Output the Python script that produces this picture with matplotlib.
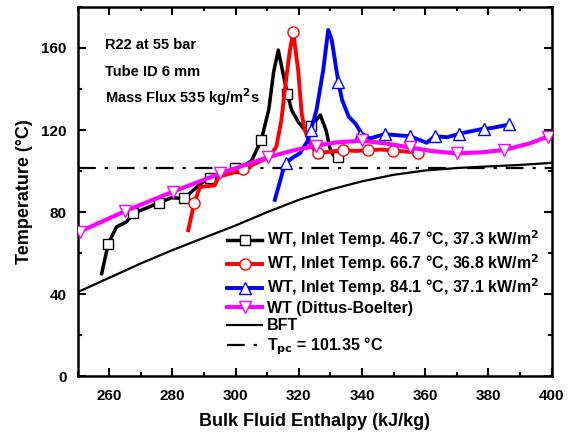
import numpy as np
import matplotlib
matplotlib.use("Agg")
import matplotlib.pyplot as plt
from matplotlib.lines import Line2D

plt.rcParams['font.family'] = ['Liberation Sans', 'DejaVu Sans']
plt.rcParams['font.weight'] = 'bold'
plt.rcParams['mathtext.default'] = 'bf'

# WT, inlet 46.7 C (black)
h_blk = [257.6, 259.7, 262.3, 265.5, 267.6, 271.8, 275.7, 279.7, 283.7, 286.6, 289.7, 291.9, 296.0,
         299.8, 302.0, 305.0, 308.1, 310.5, 312.0, 313.5, 315.0, 316.4, 317.7, 319.8, 321.9, 324.0,
         326.8, 328.6, 329.9, 330.8, 332.5]
t_blk = [50, 64.7, 72.8, 75.3, 79.4, 82, 84.5, 87, 86.7, 90.7, 94.8, 96.4, 98, 101.3, 102, 105, 115,
         130, 148, 159, 147.6, 137.6, 129.8, 124, 120, 122, 127.3, 120, 111, 108, 107]
h_blk_m = [259.7, 267.6, 275.7, 283.7, 291.9, 299.8, 308.1, 316.4, 324.0, 332.5]
t_blk_m = [64.7, 79.4, 84.5, 86.7, 96.4, 101.3, 115, 137.6, 122, 107]

# WT, inlet 66.7 C (red)
h_red = [285.0, 286.9, 288.7, 293.4, 294.5, 298.0, 302.4, 306.0, 310.8, 312.9, 314.5, 315.6, 317.0,
         318.2, 319.8, 320.9, 321.9, 323.5, 325.6, 330.0, 334.0, 338.0, 342.0, 346.0, 350.0, 354.0, 357.8]
t_red = [71.2, 84.5, 92.3, 93, 97.2, 98.7, 100.8, 103.5, 107, 112, 125, 140, 157, 168, 149, 128, 120,
         113.5, 108.6, 109.5, 110.2, 109.8, 110.2, 110.5, 110, 109.5, 109]
h_red_m = [286.9, 302.4, 318.2, 326.2, 334.0, 342.0, 349.9, 357.8]
t_red_m = [84.5, 100.8, 168, 109, 110.2, 110.2, 110, 109]

# WT, inlet 84.1 C (blue)
h_blu = [312.4, 313.5, 315.6, 318.0, 320.3, 322.9, 323.8, 325.6, 327.7, 329.3, 330.4, 332.5, 333.7,
         335.8, 338.0, 339.8, 342.5, 347.2, 351.0, 355.2, 360.5, 363.0, 367.0, 371.0, 377.3, 381.0,
         385.7]
t_blu = [86, 92, 103.7, 106.5, 108.6, 115, 120, 129.8, 149, 168.8, 164, 143.5, 134.6, 126.5, 123,
         118.4, 115.9, 118, 117.5, 117, 113.8, 117, 116.5, 118.3, 120.3, 121, 122.4]
h_blu_m = [316.0, 323.8, 332.5, 339.3, 347.2, 355.2, 363.0, 370.8, 378.6, 386.6]
t_blu_m = [104, 120, 143.5, 117.6, 118.3, 117, 117, 118.3, 120.5, 123]

# WT (Dittus-Boelter) (magenta)
h_db = [250.7, 265.0, 280.2, 295.2, 310.1, 325.4, 339.9, 355.2, 370.0, 384.9, 398.9]
t_db = [70.4, 80.5, 90, 98.9, 106.7, 112.3, 115.1, 111.9, 108.6, 110.2, 116.7]
h_db_line = [250.0, 265.0, 280.2, 295.2, 310.1, 318.0, 325.4, 332.0, 339.8, 347.0, 355.2, 362.0,
             370.0, 377.3, 384.7, 393.1, 400.0]
t_db_line = [70.0, 80.5, 90, 98.9, 106.7, 110.0, 112.3, 114.0, 114.8, 113.6, 111.5, 109.8,
             108.6, 109.1, 110.2, 113.5, 117.5]

# bulk fluid temperature
h_bft = [250, 260, 270, 280, 290, 300, 310, 320, 330, 340, 350, 360, 370, 380, 390, 400]
t_bft = [41, 48, 55, 61.5, 67.5, 73.5, 80, 86, 91, 95, 98.2, 100.3, 101.5, 102.3, 103, 104]

t_pc = 101.35

fig = plt.figure(figsize=(5.71, 4.34), dpi=100)
ax = fig.add_axes([0.136, 0.133, 0.830, 0.851])

dashdot = (0, (8, 4, 1.5, 4))
ax.axhline(t_pc, color='k', ls=dashdot, lw=1.6, zorder=1)
ax.plot(h_bft, t_bft, color='k', lw=1.6, zorder=2)

ax.plot(h_blk, t_blk, color='k', lw=2.5, zorder=3)
ax.plot(h_blk_m, t_blk_m, ls='none', marker='s', ms=7.5, mfc='white', mec='k', mew=1.0, zorder=3)

ax.plot(h_red, t_red, color='red', lw=2.8, zorder=4)
ax.plot(h_red_m, t_red_m, ls='none', marker='o', ms=8, mfc='white', mec='red', mew=1.0, zorder=4)

ax.plot(h_blu, t_blu, color='blue', lw=2.8, zorder=5)
ax.plot(h_blu_m, t_blu_m, ls='none', marker='^', ms=9, mfc='white', mec='blue', mew=1.0, zorder=5)

ax.plot(h_db_line, t_db_line, color='magenta', lw=3, zorder=6)
ax.plot(h_db, t_db, ls='none', marker='v', ms=9, mfc='white', mec='magenta', mew=1.0, zorder=6)

ax.set_xlim(250, 400)
ax.set_ylim(0, 180)
ax.set_xticks(np.arange(260, 401, 20))
ax.set_xticks(np.arange(250, 401, 10), minor=True)
ax.set_yticks(np.arange(0, 161, 40))
ax.set_yticks(np.arange(0, 181, 20), minor=True)
ax.tick_params(which='both', direction='in', top=True, right=True, width=1.5)
ax.tick_params(which='major', length=6, labelsize=11)
ax.tick_params(axis='x', which='major', pad=9)
ax.tick_params(axis='y', which='major', pad=8)
ax.tick_params(which='minor', length=3)
for s in ax.spines.values():
    s.set_linewidth(1.8)

ax.set_xlabel('Bulk Fluid Enthalpy (kJ/kg)', fontsize=13, fontweight='bold', labelpad=7)
ax.set_ylabel('Temperature (°C)', fontsize=13, fontweight='bold', labelpad=6)

ax.text(0.057, 0.897, 'R22 at 55 bar', transform=ax.transAxes, fontsize=10.5, fontweight='bold', va='center')
ax.text(0.057, 0.825, 'Tube ID 6 mm', transform=ax.transAxes, fontsize=10.5, fontweight='bold', va='center')
ax.text(0.057, 0.757, 'Mass Flux 535 kg/m$^2$s', transform=ax.transAxes, fontsize=10.5,
        fontweight='bold', va='center')

handles = [
    Line2D([], [], color='k', lw=2.5, marker='s', ms=7.5, mfc='white', mec='k'),
    Line2D([], [], color='red', lw=2.8, marker='o', ms=8, mfc='white', mec='red'),
    Line2D([], [], color='blue', lw=2.8, marker='^', ms=9, mfc='white', mec='blue'),
    Line2D([], [], color='magenta', lw=3, marker='v', ms=9, mfc='white', mec='magenta'),
    Line2D([], [], color='k', lw=1.6),
    Line2D([], [], color='k', lw=1.6, ls=dashdot),
]
labels = [
    'WT, Inlet Temp. 46.7 °C, 37.3 kW/m$^2$',
    'WT, Inlet Temp. 66.7 °C, 36.8 kW/m$^2$',
    'WT, Inlet Temp. 84.1 °C, 37.1 kW/m$^2$',
    'WT (Dittus-Boelter)',
    'BFT',
    'T$_{pc}$ = 101.35 °C',
]
ax.legend(handles, labels, loc='upper left', bbox_to_anchor=(0.315, 0.40), frameon=False,
          fontsize=11.5, handlelength=2.2, handletextpad=0.3, labelspacing=0.15, borderpad=0,
          borderaxespad=0)

fig.savefig('out.png', dpi=100)
